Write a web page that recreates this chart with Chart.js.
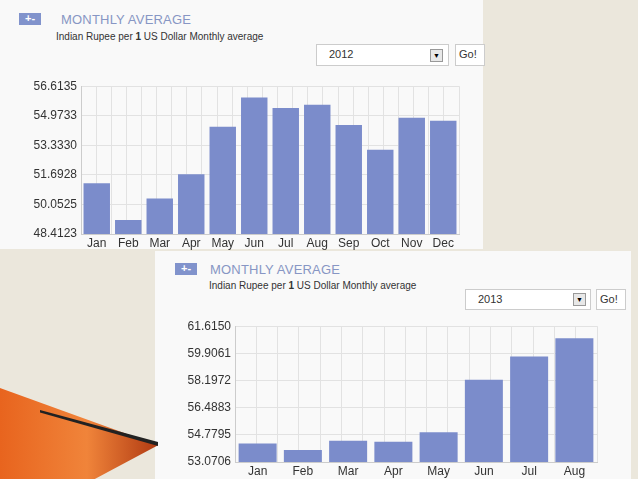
<!DOCTYPE html>
<html><head><meta charset="utf-8">
<script src="https://cdn.jsdelivr.net/npm/chart.js@4/dist/chart.umd.min.js"></script>
<style>
body{margin:0;width:638px;height:479px;overflow:hidden;background:#ebe7dc;font-family:"Liberation Sans",Arial,sans-serif;position:relative}
.panel{position:absolute;background:#f9f9f9}
.abs{position:absolute}
.icon{background:#8193cc;color:#fff;font-weight:bold;font-size:11px;width:22px;height:12px;line-height:11px;text-align:center}
.title{color:#8796c4;font-size:13px;letter-spacing:0.2px}
.sub{color:#333;font-size:10px}
.sel{background:#fff;border:1px solid #ccc;font-size:11px;color:#333;box-sizing:border-box;padding:3px 0 0 12px}
.arrow{border:1px solid #999;background:#e8e8e8;width:11px;height:11px;font-size:7px;text-align:center;line-height:11px}
.go{background:#fff;border:1px solid #ccc;font-size:11px;color:#333;box-sizing:border-box;padding:3px 0 0 3px}
</style></head><body>
<div class="panel" style="left:0;top:0;width:483px;height:249px"></div>
<div class="panel" style="left:155px;top:251px;width:476px;height:228px"></div>
<div class="abs" style="left:0;top:388px;width:158px;height:91px;background:linear-gradient(90deg,#e8641e,#f0843a 55%,#b03a12);clip-path:polygon(0 0,100% 63%,60% 100%,0 100%)"></div>
<div class="abs" style="left:40px;top:410px;width:118px;height:40px;background:#222;clip-path:polygon(0 0,100% 80%,100% 90%,0 6%)"></div>

<div class="abs icon" style="left:19px;top:13px">+-</div>
<div class="abs title" style="left:61px;top:12px">MONTHLY AVERAGE</div>
<div class="abs sub" style="left:56px;top:31px">Indian Rupee per <b>1</b> US Dollar Monthly average</div>
<div class="abs sel" style="left:316px;top:44px;width:133px;height:22px">2012</div>
<div class="abs arrow" style="left:430px;top:49px">▼</div>
<div class="abs go" style="left:455px;top:44px;width:30px;height:22px">Go!</div>

<div class="abs icon" style="left:175px;top:263px">+-</div>
<div class="abs title" style="left:210px;top:262px">MONTHLY AVERAGE</div>
<div class="abs sub" style="left:209px;top:280px">Indian Rupee per <b>1</b> US Dollar Monthly average</div>
<div class="abs sel" style="left:465px;top:289px;width:126px;height:21px">2013</div>
<div class="abs arrow" style="left:573px;top:293px">▼</div>
<div class="abs go" style="left:596px;top:289px;width:30px;height:21px">Go!</div>

<canvas id="c1" class="abs" style="left:0;top:75px"></canvas>
<canvas id="c2" class="abs" style="left:150px;top:315px"></canvas>
<script>
const months2012 = ["Jan","Feb","Mar","Apr","May","Jun","Jul","Aug","Sep","Oct","Nov","Dec"];
const values2012 = [51.23,49.19,50.38,51.73,54.36,55.99,55.41,55.58,54.46,53.09,54.86,54.70];
const ticks2012 = [48.4123,50.0525,51.6928,53.3330,54.9733,56.6135];
const months2013 = ["Jan","Feb","Mar","Apr","May","Jun","Jul","Aug"];
const values2013 = [54.23,53.82,54.40,54.35,54.94,58.24,59.71,60.85];
const ticks2013 = [53.0706,54.7795,56.4883,58.1972,59.9061,61.6150];

function make(id,w,h,labels,vals,ticks,yw,pad){
  const cv=document.getElementById(id);cv.width=w;cv.height=h;cv.style.width=w+'px';cv.style.height=h+'px';
  return new Chart(cv,{type:'bar',
    data:{labels:labels,datasets:[{data:vals,backgroundColor:'#7b8ccb',barPercentage:0.84,categoryPercentage:1}]},
    options:{responsive:false,animation:false,devicePixelRatio:1,
      layout:{padding:pad},
      plugins:{legend:{display:false},tooltip:{enabled:false}},
      scales:{
        x:{offset:true,grid:{display:false,drawTicks:false,tickLength:0},border:{color:'#ccc'},
           ticks:{color:'#333',font:{size:12,family:'Liberation Sans'},padding:2,maxRotation:0},
           afterFit:s=>{s.height=17;}},
        x2:{type:'linear',position:'bottom',min:0,max:labels.length*2,display:true,
           ticks:{display:false,stepSize:1},grid:{color:'#e2e2e2',drawTicks:false,tickLength:0},border:{display:false},
           afterFit:s=>{s.height=0;}},
        y:{min:ticks[0],max:ticks[ticks.length-1],
           afterBuildTicks:s=>{s.ticks=ticks.map(v=>({value:v}));},
           ticks:{color:'#333',font:{size:12,family:'Liberation Sans'},callback:v=>v.toFixed(4),padding:4},
           grid:{color:'#e2e2e2',drawTicks:false},border:{color:'#ccc'},
           afterFit:s=>{s.width=yw;}}
      }}});
}
make('c1',480,176,months2012,values2012,ticks2012,81,{top:11,right:21,left:0,bottom:0});
make('c2',488,164,months2013,values2013,ticks2013,85,{top:11,right:41,left:0,bottom:0});
</script>
</body></html>
